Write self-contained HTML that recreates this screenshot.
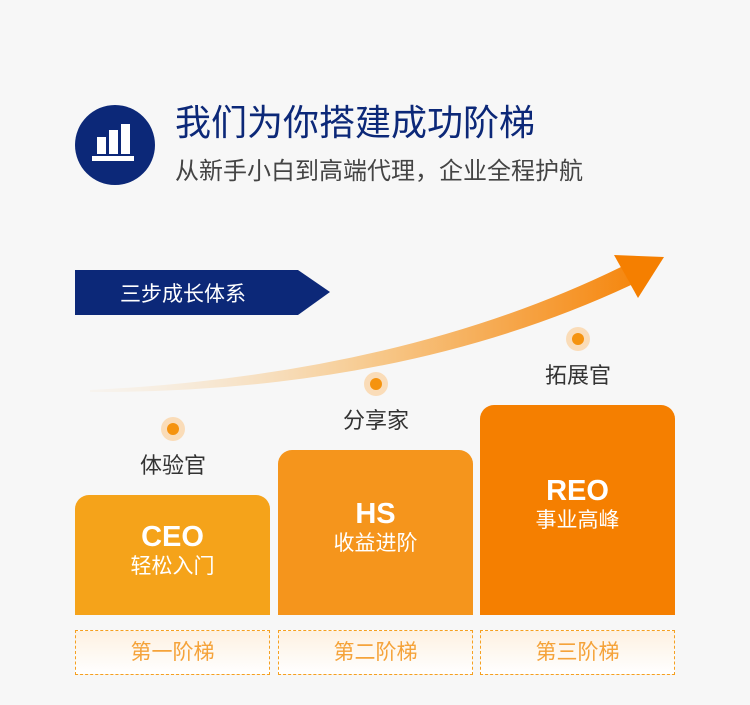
<!DOCTYPE html>
<html><head><meta charset="utf-8"><style>
body{margin:0;width:750px;height:705px;background:#f7f7f7;position:relative;overflow:hidden;font-family:"Liberation Sans","Noto Sans CJK SC",sans-serif}
.a{position:absolute}
.box{position:absolute;border-radius:14px 14px 0 0;color:#fff;text-align:center}
.box b{display:block;font-size:29px;font-weight:bold;line-height:32px}
.box span{display:block;font-size:21px;line-height:28px}
.lab{position:absolute;top:630px;width:193px;height:43px;border:1px dashed #f5a020;background:linear-gradient(#fdf1e2,#fff);color:#f5a33a;font-size:21px;text-align:center;line-height:43px}
.nm{position:absolute;font-size:22px;color:#333;text-align:center;width:120px}
.dot{position:absolute;width:24px;height:24px;border-radius:50%;background:#fadcb8}
.dot:after{content:"";position:absolute;left:6px;top:6px;width:12px;height:12px;border-radius:50%;background:#f5930f}
</style></head><body>
<div class="a" style="left:75px;top:105px;width:80px;height:80px;border-radius:50%;background:#0c2878"></div>
<div class="a" style="left:97px;top:137px;width:9px;height:17px;background:#fff"></div>
<div class="a" style="left:109px;top:130px;width:9px;height:24px;background:#fff"></div>
<div class="a" style="left:121px;top:124px;width:9px;height:30px;background:#fff"></div>
<div class="a" style="left:92px;top:156px;width:42px;height:5px;background:#fff"></div>
<div class="a" style="left:175px;top:100px;font-size:36px;color:#0c2878;line-height:46px">我们为你搭建成功阶梯</div>
<div class="a" style="left:175px;top:156px;font-size:24px;color:#444;line-height:32px">从新手小白到高端代理，企业全程护航</div>
<svg class="a" style="left:0;top:0" width="750" height="705">
<defs><linearGradient id="g" x1="90" y1="0" x2="665" y2="0" gradientUnits="userSpaceOnUse">
<stop offset="0" stop-color="#f7e6cf" stop-opacity="0.2"/><stop offset="0.5" stop-color="#f7c88a"/><stop offset="1" stop-color="#f57f00"/></linearGradient></defs>
<polygon points="75,270 298,270 330,292 298,315 75,315" fill="#0c2878"/>
<text x="120" y="301" font-size="21" fill="#fff" font-family="Liberation Sans,Noto Sans CJK SC,sans-serif">三步成长体系</text>
<path d="M90,390 Q400,375 621,267 L631,285 Q400,393 90,392 Z" fill="url(#g)"/>
<polygon points="614,255 664,257 638,298" fill="#f57f00"/>
</svg>
<div class="dot" style="left:161px;top:417px"></div>
<div class="nm" style="left:113px;top:448px">体验官</div>
<div class="dot" style="left:364px;top:372px"></div>
<div class="nm" style="left:316px;top:403px">分享家</div>
<div class="dot" style="left:566px;top:327px"></div>
<div class="nm" style="left:518px;top:358px">拓展官</div>
<div class="box" style="left:75px;top:495px;width:195px;height:120px;background:#f5a31a"><b style="margin-top:26px">CEO</b><span>轻松入门</span></div>
<div class="box" style="left:278px;top:450px;width:195px;height:165px;background:#f5951c"><b style="margin-top:48px">HS</b><span>收益进阶</span></div>
<div class="box" style="left:480px;top:405px;width:195px;height:210px;background:#f57f00"><b style="margin-top:70px">REO</b><span>事业高峰</span></div>
<div class="lab" style="left:75px">第一阶梯</div>
<div class="lab" style="left:278px">第二阶梯</div>
<div class="lab" style="left:480px">第三阶梯</div>
</body></html>
